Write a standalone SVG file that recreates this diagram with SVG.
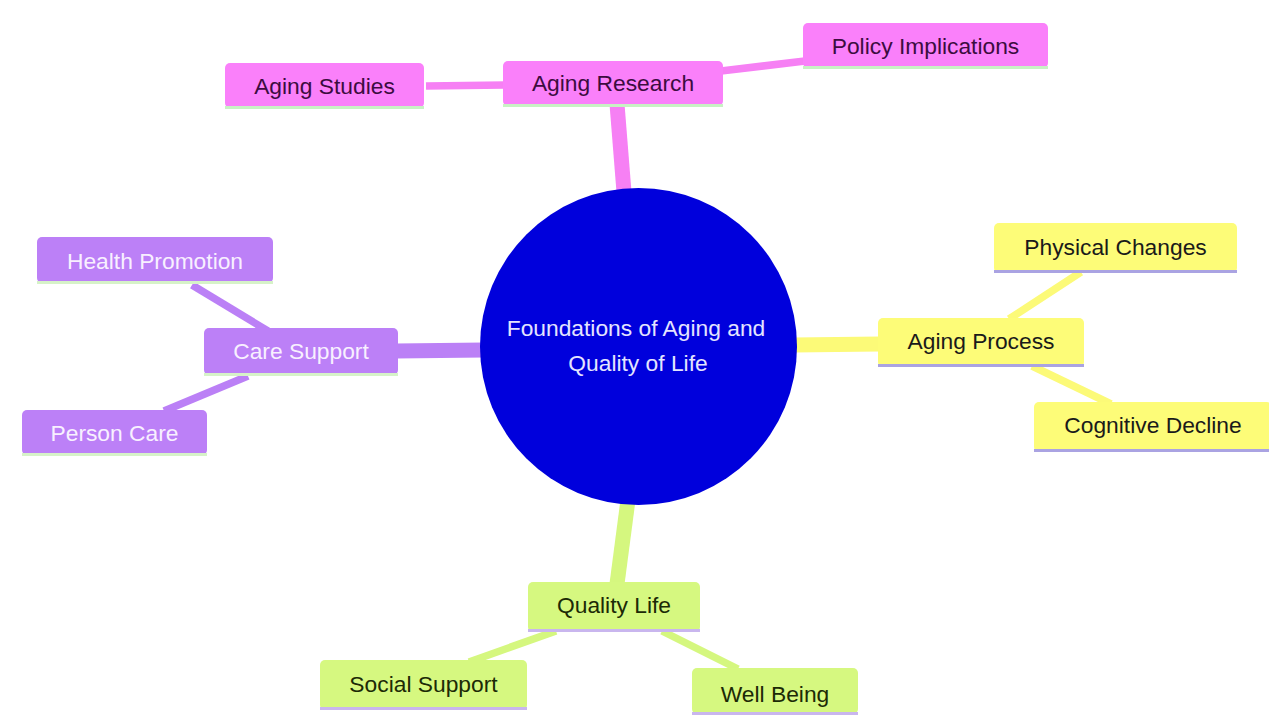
<svg xmlns="http://www.w3.org/2000/svg" width="1269" height="715" viewBox="0 0 1269 715">
<style>
text{font-family:"Liberation Sans",Arial,sans-serif;font-size:22.8px;text-anchor:middle}
.c{fill:none;stroke-linecap:butt}
.main{stroke-width:15}
.sub{stroke-width:7.5}
.pk{stroke:#f680f4}
.pu{stroke:#bb80f6}
.ye{stroke:#fcfa78}
.gr{stroke:#d5f77f}
.npk{fill:#fa80fa}
.npu{fill:#bc80f7}
.nye{fill:#fdfc78}
.ngr{fill:#d6f880}
.lpk{fill:#c8f2c4}
.lpu{fill:#d6f2c8}
.lye{fill:#aaa3e2}
.lgr{fill:#c9b6ee}
.tpk{fill:#3c0c40}
.tpu{fill:#f8f0ff}
.tye{fill:#1a1a1a}
.tgr{fill:#1c2a06}
</style>
<rect width="1269" height="715" fill="#ffffff"/>
<g id="connectors">
<line class="c main pk" x1="624" y1="192" x2="617" y2="104"/>
<line class="c sub pk" x1="426" y1="86" x2="505" y2="85"/>
<line class="c sub pk" x1="721" y1="71" x2="805" y2="61"/>
<line class="c main pu" x1="484" y1="350" x2="396" y2="351"/>
<line class="c sub pu" x1="268" y1="331" x2="192" y2="285"/>
<line class="c sub pu" x1="248" y1="376" x2="164" y2="411"/>
<line class="c main ye" x1="793" y1="345" x2="880" y2="344"/>
<line class="c sub ye" x1="1009" y1="319" x2="1081" y2="272"/>
<line class="c sub ye" x1="1032" y1="366" x2="1111" y2="404"/>
<line class="c main gr" x1="628" y1="500" x2="617" y2="584"/>
<line class="c sub gr" x1="556" y1="631" x2="469" y2="662"/>
<line class="c sub gr" x1="662" y1="631" x2="738" y2="669"/>
</g>
<g id="root">
<circle cx="638.5" cy="346.5" r="158.5" fill="#0000dc"/>
<text x="636" y="336" fill="#e4e4ff">Foundations of Aging and</text>
<text x="638" y="371" fill="#e4e4ff">Quality of Life</text>
</g>
<g id="aging-research">
<rect class="npk" x="503" y="61" width="220" height="45" rx="5"/>
<rect class="lpk" x="503" y="104" width="220" height="3"/>
<text class="tpk" x="613" y="91">Aging Research</text>
</g>
<g id="aging-studies">
<rect class="npk" x="225" y="63" width="199" height="45" rx="5"/>
<rect class="lpk" x="225" y="106" width="199" height="3"/>
<text class="tpk" x="324.5" y="94">Aging Studies</text>
</g>
<g id="policy-implications">
<rect class="npk" x="803" y="23" width="245" height="45" rx="5"/>
<rect class="lpk" x="803" y="66" width="245" height="3"/>
<text class="tpk" x="925.5" y="54">Policy Implications</text>
</g>
<g id="care-support">
<rect class="npu" x="204" y="328" width="194" height="47" rx="5"/>
<rect class="lpu" x="204" y="373" width="194" height="3"/>
<text class="tpu" x="301" y="359">Care Support</text>
</g>
<g id="health-promotion">
<rect class="npu" x="37" y="237" width="236" height="46" rx="5"/>
<rect class="lpu" x="37" y="281" width="236" height="3"/>
<text class="tpu" x="155" y="269">Health Promotion</text>
</g>
<g id="person-care">
<rect class="npu" x="22" y="410" width="185" height="45" rx="5"/>
<rect class="lpu" x="22" y="453" width="185" height="3"/>
<text class="tpu" x="114.5" y="441">Person Care</text>
</g>
<g id="aging-process">
<rect class="nye" x="878" y="318" width="206" height="49" rx="5"/>
<rect class="lye" x="878" y="364" width="206" height="3"/>
<text class="tye" x="981" y="349">Aging Process</text>
</g>
<g id="physical-changes">
<rect class="nye" x="994" y="223" width="243" height="50" rx="5"/>
<rect class="lye" x="994" y="270" width="243" height="3"/>
<text class="tye" x="1115.5" y="255">Physical Changes</text>
</g>
<g id="cognitive-decline">
<rect class="nye" x="1034" y="402" width="238" height="50" rx="5"/>
<rect class="lye" x="1034" y="449" width="238" height="3"/>
<text class="tye" x="1153" y="433">Cognitive Decline</text>
</g>
<g id="quality-life">
<rect class="ngr" x="528" y="582" width="172" height="50" rx="5"/>
<rect class="lgr" x="528" y="629" width="172" height="3"/>
<text class="tgr" x="614" y="613">Quality Life</text>
</g>
<g id="social-support">
<rect class="ngr" x="320" y="660" width="207" height="50" rx="5"/>
<rect class="lgr" x="320" y="707" width="207" height="3"/>
<text class="tgr" x="423.5" y="692">Social Support</text>
</g>
<g id="well-being">
<rect class="ngr" x="692" y="668" width="166" height="46" rx="5"/>
<rect class="lgr" x="692" y="712" width="166" height="3"/>
<text class="tgr" x="775" y="702">Well Being</text>
</g>
</svg>
